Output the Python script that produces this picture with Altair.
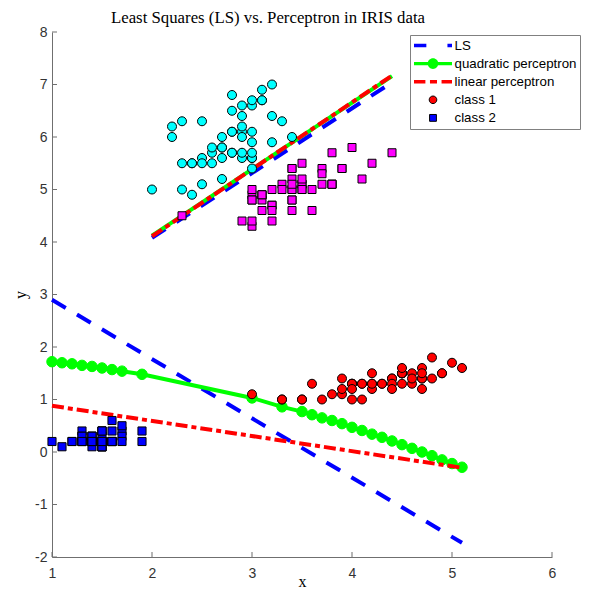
import altair as alt
import pandas as pd

title_text = "Least Squares (LS) vs. Perceptron in IRIS data"
x_ticks = [1, 2, 3, 4, 5, 6]
y_ticks = [-2, -1, 0, 1, 2, 3, 4, 5, 6, 7, 8]

# IRIS setosa
set_sepal_w = [3.5,3.0,3.2,3.1,3.6,3.9,3.4,3.4,2.9,3.1,3.7,3.4,3.0,3.0,4.0,4.4,3.9,3.5,3.8,3.8,3.4,3.7,3.6,3.3,3.4,3.0,3.4,3.5,3.4,3.2,3.1,3.4,4.1,4.2,3.1,3.2,3.5,3.1,3.0,3.4,3.5,2.3,3.2,3.5,3.8,3.0,3.8,3.2,3.7,3.3]
set_sepal_l = [5.1,4.9,4.7,4.6,5.0,5.4,4.6,5.0,4.4,4.9,5.4,4.8,4.8,4.3,5.8,5.7,5.4,5.1,5.7,5.1,5.4,5.1,4.6,5.1,4.8,5.0,5.0,5.2,5.2,4.7,4.8,5.4,5.2,5.5,4.9,5.0,5.5,4.9,4.4,5.1,5.0,4.5,4.4,5.0,5.1,4.8,5.1,4.6,5.3,5.0]
set_petal_l = [1.4,1.4,1.3,1.5,1.4,1.7,1.4,1.5,1.4,1.5,1.5,1.6,1.4,1.1,1.2,1.5,1.3,1.4,1.7,1.5,1.7,1.5,1.0,1.7,1.9,1.6,1.6,1.5,1.4,1.6,1.6,1.5,1.5,1.4,1.5,1.2,1.3,1.5,1.3,1.5,1.3,1.3,1.3,1.6,1.9,1.4,1.6,1.4,1.5,1.4]
set_petal_w = [0.2,0.2,0.2,0.2,0.2,0.4,0.3,0.2,0.2,0.1,0.2,0.2,0.1,0.1,0.2,0.4,0.4,0.3,0.3,0.3,0.2,0.4,0.2,0.5,0.2,0.2,0.4,0.2,0.2,0.2,0.2,0.4,0.1,0.2,0.1,0.2,0.2,0.1,0.2,0.2,0.3,0.3,0.2,0.6,0.4,0.3,0.2,0.2,0.2,0.2]

# IRIS versicolor
ver_sepal_l = [7.0,6.4,6.9,5.5,6.5,5.7,6.3,4.9,6.6,5.2,5.0,5.9,6.0,6.1,5.6,6.7,5.6,5.8,6.2,5.6,5.9,6.1,6.3,6.1,6.4,6.6,6.8,6.7,6.0,5.7,5.5,5.5,5.8,6.0,5.4,6.0,6.7,6.3,5.6,5.5,5.5,6.1,5.8,5.0,5.6,5.7,5.7,6.2,5.1,5.7]
ver_sepal_w = [3.2,3.2,3.1,2.3,2.8,2.8,3.3,2.4,2.9,2.7,2.0,3.0,2.2,2.9,2.9,3.1,3.0,2.7,2.2,2.5,3.2,2.8,2.5,2.8,2.9,3.0,2.8,3.0,2.9,2.6,2.4,2.4,2.7,2.7,3.0,3.4,3.1,2.3,3.0,2.5,2.6,3.0,2.6,2.3,2.7,3.0,2.9,2.9,2.5,2.8]
ver_petal_l = [4.7,4.5,4.9,4.0,4.6,4.5,4.7,3.3,4.6,3.9,3.5,4.2,4.0,4.7,3.6,4.4,4.5,4.1,4.5,3.9,4.8,4.0,4.9,4.7,4.3,4.4,4.8,5.0,4.5,3.5,3.8,3.7,3.9,5.1,4.5,4.5,4.7,4.4,4.1,4.0,4.4,4.6,4.0,3.3,4.2,4.2,4.2,4.3,3.0,4.1]
ver_petal_w = [1.4,1.5,1.5,1.3,1.5,1.3,1.6,1.0,1.3,1.4,1.0,1.5,1.0,1.4,1.3,1.4,1.5,1.0,1.5,1.1,1.8,1.3,1.5,1.2,1.3,1.4,1.4,1.7,1.5,1.0,1.1,1.0,1.2,1.6,1.5,1.6,1.5,1.3,1.3,1.3,1.2,1.4,1.2,1.0,1.3,1.2,1.3,1.3,1.1,1.3]

# Boundary lines
ls_seg = ["upper", "upper", "lower", "lower"]
ls_x = [2.0, 4.4, 1.0, 5.1]
ls_y = [4.08, 7.04, 2.90, -1.73]

lp_seg = ["upper", "upper", "lower", "lower"]
lp_x = [2.0, 4.4, 1.0, 5.1]
lp_y = [4.11, 7.17, 0.88, -0.30]

qp_up_x = [2.0, 4.4]
qp_up_y = [4.12, 7.16]
qp_x = [1.0, 1.1, 1.2, 1.3, 1.4, 1.5, 1.6, 1.7, 1.9, 3.0, 3.3, 3.5, 3.6, 3.7, 3.8, 3.9, 4.0,
        4.1, 4.2, 4.3, 4.4, 4.5, 4.6, 4.7, 4.8, 4.9, 5.0, 5.1]
qp_y = [1.72, 1.70, 1.68, 1.65, 1.63, 1.60, 1.57, 1.54, 1.48, 1.03, 0.86, 0.77, 0.71, 0.65, 0.60,
        0.54, 0.47, 0.41, 0.34, 0.28, 0.21, 0.14, 0.07, 0.00, -0.07, -0.15, -0.22, -0.29]

series_names = ["LS", "quadratic perceptron", "linear perceptron",
                "\u00a0\u00a0class 1", "\u00a0\u00a0\u00a0class 2"]
series_fill = ["#0000ff", "#00ff00", "#ff0000", "#ff0000", "#0000ff"]
series_stroke = ["transparent", "transparent", "transparent", "#000000", "#000000"]
series_shape = [
    "M-1,-0.09H-0.35V0.09H-1Z M0.76,-0.09H1V0.09H0.76Z",
    "M-1,-0.09H1V0.09H-1Z M-0.28,0A0.28,0.28 0 1,1 0.28,0A0.28,0.28 0 1,1 -0.28,0Z",
    "M-1,-0.09H-0.4V0.09H-1Z M-0.16,-0.09H0.21V0.09H-0.16Z M0.45,-0.09H1V0.09H0.45Z",
    "M-0.2,0A0.2,0.2 0 1,1 0.2,0A0.2,0.2 0 1,1 -0.2,0Z",
    "M-0.18,-0.18H0.18V0.18H-0.18Z",
]

W, H = 500, 525

xs = alt.Scale(domain=[1, 6], nice=False, zero=False)
ys = alt.Scale(domain=[-2, 8], nice=False, zero=False)

x_axis = alt.Axis(values=x_ticks, ticks=False, grid=False, domainColor="#6f6f6f",
                  labelFont="Liberation Sans", labelFontSize=14, labelColor="#333333",
                  labelPadding=9, labelFlush=False, labelExpr="'' + datum.value",
                  title="x", titleFont="Liberation Serif",
                  titleFontSize=16, titleFontWeight="normal", titleColor="#000000",
                  titleBaseline="alphabetic", titleX=W / 2, titleY=29.5)
y_axis = alt.Axis(values=y_ticks, ticks=False, grid=False, domainColor="#6f6f6f",
                  labelFont="Liberation Sans", labelFontSize=14, labelColor="#333333",
                  labelPadding=5, labelFlush=False, labelExpr="'' + datum.value",
                  title="y", titleFont="Liberation Serif",
                  titleFontSize=16, titleFontWeight="normal", titleColor="#000000", titlePadding=6)


def X():
    return alt.X("x:Q", scale=xs, axis=x_axis, title="x")


def Y():
    return alt.Y("y:Q", scale=ys, axis=y_axis, title="y")


ls_df = pd.DataFrame({"x": ls_x, "y": ls_y, "seg": ls_seg})
lp_df = pd.DataFrame({"x": lp_x, "y": lp_y, "seg": lp_seg})
qp_df = pd.DataFrame({"x": qp_up_x + qp_x, "y": qp_up_y + qp_y,
                      "seg": ["upper"] * len(qp_up_x) + ["lower"] * len(qp_x)})
qpm_df = pd.DataFrame({"x": qp_x, "y": qp_y})
cyan_df = pd.DataFrame({"x": ver_sepal_w, "y": ver_sepal_l})
mag_df = pd.DataFrame({"x": set_sepal_w, "y": set_sepal_l})
cls_df = pd.DataFrame({"x": ver_petal_l + set_petal_l, "y": ver_petal_w + set_petal_w,
                       "series": [series_names[3]] * len(ver_petal_l) + [series_names[4]] * len(set_petal_l)})

ls_layer = alt.Chart(ls_df).mark_line(color="#0000ff", strokeWidth=4, strokeDash=[16, 13],
                                      strokeCap="butt").encode(x=X(), y=Y(), detail="seg:N")
qp_layer = alt.Chart(qp_df).mark_line(color="#00ff00", strokeWidth=4).encode(x=X(), y=Y(), detail="seg:N")
qpm_layer = alt.Chart(qpm_df).mark_circle(color="#00ff00", size=110, opacity=1,
                                          stroke="#00ff00", strokeWidth=1).encode(x=X(), y=Y())
lp_layer = alt.Chart(lp_df).mark_line(color="#ff0000", strokeWidth=4, strokeDash=[12, 4, 5, 4],
                                      strokeCap="butt").encode(x=X(), y=Y(), detail="seg:N")
cyan_layer = alt.Chart(cyan_df).mark_circle(color="#00ffff", size=81, opacity=1, stroke="#000000",
                                            strokeWidth=1).encode(x=X(), y=Y())
mag_layer = alt.Chart(mag_df).mark_square(color="#ff00ff", size=64, opacity=1, stroke="#000000",
                                          strokeWidth=1).encode(x=X(), y=Y())

legend = alt.Legend(title=None, orient="none", legendX=358, legendY=3, fillColor="#ffffff",
                    strokeColor="#808080", padding=3.5, rowPadding=4.1, labelOffset=2,
                    clipHeight=14,
                    labelFont="Liberation Sans", labelFontSize=13.3, labelColor="#000000",
                    symbolSize=1444, symbolStrokeWidth=1)

cls_layer = alt.Chart(cls_df).mark_point(filled=True, size=2025, opacity=1, strokeWidth=1).encode(
    x=X(), y=Y(),
    color=alt.Color("series:N", scale=alt.Scale(domain=series_names, range=series_fill), legend=legend),
    stroke=alt.Stroke("series:N", scale=alt.Scale(domain=series_names, range=series_stroke), legend=legend),
    shape=alt.Shape("series:N", scale=alt.Scale(domain=series_names, range=series_shape), legend=legend),
)

xt_df = pd.DataFrame({"x": x_ticks})
yt_df = pd.DataFrame({"y": y_ticks})
xt_layer = alt.Chart(xt_df).mark_tick(orient="vertical", size=5, thickness=1, color="#6f6f6f",
                                      opacity=1).encode(x=X(), y=alt.value(H - 2.5))
yt_layer = alt.Chart(yt_df).mark_tick(orient="horizontal", size=5, thickness=1, color="#6f6f6f",
                                      opacity=1).encode(y=Y(), x=alt.value(2.5))

chart = alt.layer(
    ls_layer, qp_layer, qpm_layer, lp_layer, cyan_layer, mag_layer, cls_layer, xt_layer, yt_layer
).properties(
    width=W, height=H,
    title=alt.TitleParams(text=title_text, font="Liberation Serif", fontSize=16.8, fontWeight="normal",
                          color="#000000", anchor="middle", dx=-34, dy=6.5, offset=5),
    autosize=alt.AutoSizeParams(type="none"),
    padding={"left": 44, "top": 24, "right": 32, "bottom": 34},
).configure_view(stroke="transparent")

chart.save("out.html", embed_options={"renderer": "svg", "actions": False})
